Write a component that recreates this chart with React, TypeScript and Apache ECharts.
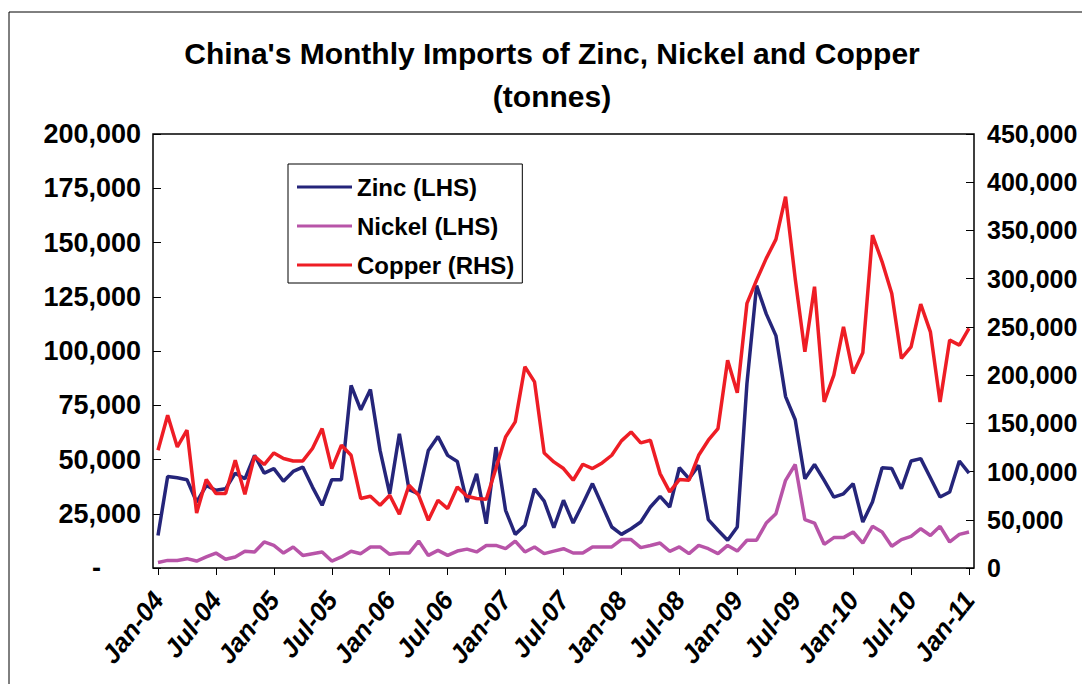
import React, { useEffect, useRef } from 'react';
import * as echarts from 'echarts';

const MONTH_NAMES = ['Jan', 'Feb', 'Mar', 'Apr', 'May', 'Jun', 'Jul', 'Aug', 'Sep', 'Oct', 'Nov', 'Dec'];
const YEARS = ['04', '05', '06', '07', '08', '09', '10', '11'];
const categories: string[] = [];
YEARS.forEach((y, yi) => {
  MONTH_NAMES.forEach((m, mi) => {
    if (yi === YEARS.length - 1 && mi > 0) return;
    categories.push(`${m}-${y}`);
  });
});

const zinc = [
  15000, 42200, 41600, 40700, 30400, 38000, 35800, 36500, 43700, 41100, 51900, 43700, 45800, 40000,
  44500, 46500, 37300, 28900, 40700, 40700, 84100, 72900, 82300, 54200, 34200, 61900, 36100, 34200,
  54200, 60600, 51900, 49100, 30400, 43400, 20400, 55700, 26600, 15500, 19700, 36500, 30800, 18600,
  31200, 20700, 29600, 38900, 28900, 18900, 15500, 18100, 21200, 28100, 33000, 28100, 46200, 41200,
  47300, 22300, 17400, 12800, 18900, 85000, 130100, 117100, 107100, 79000, 68300, 41100, 47700, 40400,
  32700, 34200, 38900, 21200, 30400, 46200, 45800, 36500, 49300, 50400, 41600, 32700, 35000, 49300, 43700,
];

const nickel = [
  2500, 3500, 3500, 4300, 3200, 5100, 6900, 4000, 5100, 7700, 7400, 12000, 10400, 6900,
  9700, 5800, 6600, 7400, 3200, 5100, 7700, 6600, 9700, 9700, 6300, 6900, 6900, 12400,
  5800, 8100, 5800, 7800, 8700, 7400, 10400, 10400, 8900, 12400, 7400, 9700, 6600, 7800,
  8900, 6900, 6900, 9700, 9700, 9700, 13100, 13100, 9400, 10400, 11500, 7700, 9700, 6600,
  10400, 8900, 6600, 10400, 7800, 12800, 12800, 20700, 25000, 40400, 47700, 22300, 20700, 10900,
  14000, 14000, 16600, 11500, 19200, 16600, 10000, 13100, 14600, 18100, 15000, 19200, 12000, 15500, 16600,
];

const copper = [
  122100, 158400, 125500, 142900, 57100, 91700, 77200, 77200, 111700, 76500, 115900, 107300, 119300, 113500,
  111000, 111000, 123900, 144600, 103100, 127300, 116900, 72000, 74400, 65100, 75400, 55700, 85800, 75400,
  49500, 70200, 61600, 84000, 74400, 72000, 71300, 103100, 135900, 151500, 208600, 193000, 119300, 110000,
  103100, 91000, 107600, 103100, 108900, 116900, 131800, 141100, 129700, 132500, 97900, 78900, 91700, 91000,
  116900, 132500, 144600, 215500, 181600, 274300, 298500, 321000, 340700, 385000, 300000, 224100, 291600, 172200,
  199900, 250100, 201700, 223100, 345200, 317500, 284700, 217300, 229300, 273600, 244900, 172200, 236300, 231100, 248400,
];

const SERIES_NAMES = ['Zinc (LHS)', 'Nickel (LHS)', 'Copper (RHS)'];
const COLORS = ['#25257a', '#b854a8', '#ee1d25'];
const TITLE_LINES = ["China's Monthly Imports of Zinc, Nickel and Copper", '(tonnes)'];

const FONT = "'Liberation Sans', Arial, Helvetica, sans-serif";

const fmt = (v: number) => v.toLocaleString('en-US');

export default function App() {
  const ref = useRef<HTMLDivElement>(null);
  useEffect(() => {
    if (!ref.current) return;
    const chart = echarts.init(ref.current, undefined, { renderer: 'svg' });
    const option: any = {
      animation: false,
      backgroundColor: '#ffffff',
      textStyle: { fontFamily: FONT },
      grid: { left: 158, right: 113, top: 134, bottom: 116, containLabel: false },
      xAxis: {
        type: 'category',
        data: categories,
        boundaryGap: false,
        axisLine: { show: false },
        axisTick: { show: true, interval: 5, length: 7, lineStyle: { color: '#000', width: 1 } },
        axisLabel: {
          interval: 5,
          rotate: 52,
          fontSize: 26,
          fontWeight: 'bold',
          fontStyle: 'italic',
          color: '#000',
          margin: 27,
          fontFamily: FONT,
        },
        splitLine: { show: false },
      },
      yAxis: [
        {
          type: 'value',
          min: 0,
          max: 200000,
          interval: 25000,
          position: 'left',
          offset: 5,
          axisLine: { show: false },
          axisTick: { show: true, inside: true, length: 8, lineStyle: { color: '#000' } },
          axisLabel: {
            formatter: (v: number) => (v === 0 ? '{d|-}' : fmt(v)),
            fontSize: 27,
            fontWeight: 'bold',
            color: '#000',
            margin: 12,
            fontFamily: FONT,
            rich: { d: { fontSize: 27, fontWeight: 'bold', color: '#000', padding: [0, 40, 0, 0], fontFamily: FONT } },
          },
          splitLine: { show: false },
        },
        {
          type: 'value',
          min: 0,
          max: 450000,
          interval: 50000,
          position: 'right',
          offset: 5,
          axisLine: { show: false },
          axisTick: { show: true, inside: true, length: 8, lineStyle: { color: '#000' } },
          axisLabel: {
            formatter: (v: number) => fmt(v),
            fontSize: 25,
            fontWeight: 'bold',
            color: '#000',
            margin: 13,
            fontFamily: FONT,
          },
          splitLine: { show: false },
        },
      ],
      legend: {
        orient: 'vertical',
        left: 288,
        top: 164,
        padding: [11, 8, 6, 9],
        itemGap: 15,
        itemWidth: 55,
        itemHeight: 3,
        icon: 'rect',
        backgroundColor: '#fff',
        borderColor: '#000',
        borderWidth: 1,
        textStyle: { fontSize: 24, fontWeight: 'bold', color: '#000', fontFamily: FONT, lineHeight: 24 },
        data: SERIES_NAMES,
      },
      series: [
        { name: SERIES_NAMES[0], type: 'line', data: zinc, yAxisIndex: 0, showSymbol: false, symbol: 'none', color: COLORS[0], lineStyle: { width: 3.5, color: COLORS[0] } },
        { name: SERIES_NAMES[1], type: 'line', data: nickel, yAxisIndex: 0, showSymbol: false, symbol: 'none', color: COLORS[1], lineStyle: { width: 3.5, color: COLORS[1] } },
        { name: SERIES_NAMES[2], type: 'line', data: copper, yAxisIndex: 1, showSymbol: false, symbol: 'none', color: COLORS[2], lineStyle: { width: 3.5, color: COLORS[2] } },
      ],
      graphic: [
        { type: 'rect', silent: true, z: 0, shape: { x: 9, y: 12, width: 1200, height: 1000 }, style: { fill: 'none', stroke: '#000', lineWidth: 1 } },
        { type: 'rect', silent: true, z: 0, shape: { x: 153, y: 134, width: 821, height: 434 }, style: { fill: 'none', stroke: '#000', lineWidth: 1.5 } },
        { type: 'text', silent: true, x: 552, y: 53, style: { text: TITLE_LINES[0], fontSize: 30, fontWeight: 'bold', fontFamily: FONT, fill: '#000', align: 'center', verticalAlign: 'middle' } },
        { type: 'text', silent: true, x: 552, y: 96, style: { text: TITLE_LINES[1], fontSize: 30, fontWeight: 'bold', fontFamily: FONT, fill: '#000', align: 'center', verticalAlign: 'middle' } },
      ],
    };
    chart.setOption(option);
    return () => chart.dispose();
  }, []);
  return <div ref={ref} style={{ position: 'absolute', left: 0, top: 0, width: 1082, height: 684 }} />;
}
